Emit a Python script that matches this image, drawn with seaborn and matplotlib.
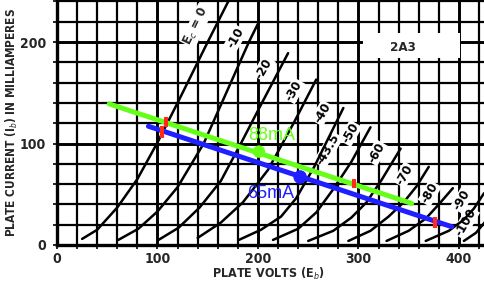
import numpy as np
import pandas as pd
import matplotlib
matplotlib.use("Agg")
import matplotlib.pyplot as plt
from matplotlib.patches import Rectangle
import seaborn as sns

# ---------------- data ----------------
grid_labels = ["0", "-10", "-20", "-30", "-40", "-50", "-60", "-70", "-80", "-90", "-100"]
v_ec0 = [25, 40, 60, 80, 100, 121, 150, 172]
i_ec0 = [6, 15, 37, 65, 101, 142, 200, 243]
v_ec10 = [61, 81, 100, 120, 146, 173, 191, 201]
i_ec10 = [5, 16, 33, 57, 100, 160, 200, 220]
v_ec20 = [101, 121, 142, 163, 183, 205, 230]
i_ec20 = [5, 17, 37, 63, 100, 142, 189]
v_ec30 = [140, 163, 185, 210, 236, 258]
i_ec30 = [7, 22, 42, 74, 121, 163]
v_ec40 = [181, 203, 223, 238, 256, 285]
i_ec40 = [5, 15, 28, 46, 77, 135]
v_ec50 = [215, 240, 258, 275, 293, 312]
i_ec50 = [5, 16, 32, 55, 82, 116]
v_ec60 = [250, 275, 293, 308, 323, 342]
i_ec60 = [4, 14, 27, 42, 64, 95]
v_ec70 = [290, 312, 330, 345, 358, 370]
i_ec70 = [4, 14, 28, 42, 58, 77]
v_ec80 = [328, 350, 367, 380, 394]
i_ec80 = [4, 14, 26, 40, 56]
v_ec90 = [367, 390, 405, 415, 425]
i_ec90 = [4, 14, 25, 36, 51]
v_ec100 = [405, 417, 428]
i_ec100 = [4, 12, 25]

label_text = ["-10", "-20", "-30", "-40", "-43.5", "-50", "-60", "-70", "-80", "-90", "-100"]
label_v = [178, 206, 236, 264, 270, 292, 318, 346, 371, 403, 407]
label_i = [204, 174, 152, 130, 94, 110, 91, 69, 51, 44, 22]

green_v = [52, 353]
green_i = [139, 41]
blue_v = [91, 393]
blue_i = [117, 18]
green_dot = (201, 92)
blue_dot = (242, 67)
tick_v = [108, 105, 295.5, 376]
tick_lo = [116, 105, 56, 17]
tick_hi = [126, 117, 65, 28]

x_ticks = [0, 100, 200, 300, 400]
y_ticks = [0, 100, 200]

# ---------------- build table ----------------
curve_v = [v_ec0, v_ec10, v_ec20, v_ec30, v_ec40, v_ec50, v_ec60, v_ec70, v_ec80, v_ec90, v_ec100]
curve_i = [i_ec0, i_ec10, i_ec20, i_ec30, i_ec40, i_ec50, i_ec60, i_ec70, i_ec80, i_ec90, i_ec100]
rows = []
for g, vs, is_ in zip(grid_labels, curve_v, curve_i):
    for v, i in zip(vs, is_):
        rows.append({"grid": g, "volts": v, "ma": i})
df = pd.DataFrame(rows)
df_green = pd.DataFrame({"volts": green_v, "ma": green_i})
df_blue = pd.DataFrame({"volts": blue_v, "ma": blue_i})

# ---------------- style ----------------
sns.set_theme(style="white")
plt.rcParams["font.family"] = ["DejaVu Sans"]
plt.rcParams["font.stretch"] = "condensed"

fig = plt.figure(figsize=(4.84, 2.81), dpi=100)
ax = fig.add_axes([57 / 484, 36 / 281, 1 - 57 / 484, 245 / 281])
ax.set_xlim(0, 425)
ax.set_ylim(0, 241.4)

ax.set_xticks(x_ticks)
ax.set_yticks(y_ticks)
ax.set_xticks(np.arange(0, 425, 20), minor=True)
ax.set_yticks(np.arange(0, 241, 20), minor=True)
ax.set_xticklabels([str(t) for t in x_ticks], fontweight="bold", fontsize=10)
ax.set_yticklabels([str(t) for t in y_ticks], fontweight="bold", fontsize=10)
ax.tick_params(which="both", direction="out", length=3, width=1.2, color="black",
               bottom=True, left=True, pad=2)
ax.tick_params(axis="y", pad=5)
ax.grid(which="major", color="black", lw=2.1)
ax.grid(which="minor", color="black", lw=1.6)
ax.set_axisbelow(True)
for s in ["top", "right"]:
    ax.spines[s].set_visible(False)
for s in ["left", "bottom"]:
    ax.spines[s].set_color("black")
    ax.spines[s].set_linewidth(2.4)

# characteristic curves
sns.lineplot(data=df, x="volts", y="ma", units="grid", estimator=None, sort=False,
             color="black", lw=1.8, ax=ax, zorder=4)

# curve labels
for t, v, i in zip(label_text, label_v, label_i):
    ax.text(v, i, t, rotation=60, ha="center", va="center", fontsize=9.5,
            fontweight="bold", color="black", zorder=3,
            bbox=dict(facecolor="white", edgecolor="none", pad=0.6))
ax.text(139, 216, "E$_c$ = 0", rotation=64, ha="center", va="center", fontsize=9.5,
        fontweight="bold", zorder=3,
        bbox=dict(facecolor="white", edgecolor="none", pad=0.6))

# tube type box
ax.add_patch(Rectangle((305, 184), 96, 25, facecolor="white", edgecolor="none", zorder=2))
ax.text(344, 195, "2A3", ha="center", va="center", fontsize=9.5, fontweight="bold", zorder=3)

# load lines
sns.lineplot(data=df_blue, x="volts", y="ma", color="#1f1fff", lw=3.6, ax=ax, zorder=6)
sns.lineplot(data=df_green, x="volts", y="ma", color="#66ff1a", lw=3.6, ax=ax, zorder=7)
sns.scatterplot(x=[green_dot[0]], y=[green_dot[1]], color="#66ff1a", s=80,
                edgecolor="none", ax=ax, zorder=8)
sns.scatterplot(x=[blue_dot[0]], y=[blue_dot[1]], color="#1f1fff", s=95,
                edgecolor="none", ax=ax, zorder=8)
ax.vlines(tick_v, tick_lo, tick_hi, color="#ff2a1a", lw=3, zorder=9)

ax.text(214, 108, "88mA", color="#66ff1a", fontsize=13, ha="center", va="center",
        family=["Liberation Sans", "DejaVu Sans"], fontstretch="normal", zorder=9)
ax.text(213, 51, "65mA", color="#1f1fff", fontsize=13, ha="center", va="center",
        family=["Liberation Sans", "DejaVu Sans"], fontstretch="normal", zorder=9)

ax.set_xlabel("PLATE VOLTS (E$_b$)", fontsize=9, fontweight="bold")
ax.set_ylabel("PLATE CURRENT (I$_b$) IN MILLIAMPERES", fontsize=8.5, fontweight="bold")
ax.xaxis.set_label_coords((268 - 57) / 427, -29 / 245)
ax.yaxis.set_label_coords(-45 / 427, 0.5)
ax.xaxis.label.set_va("center")
ax.yaxis.label.set_va("center")

fig.savefig("out.png", dpi=100)
